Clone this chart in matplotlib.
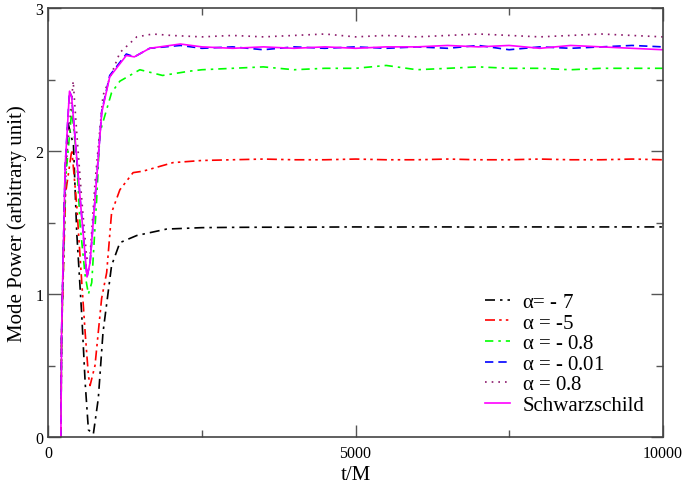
import matplotlib
matplotlib.use("Agg")
import matplotlib.pyplot as plt
import numpy as np

plt.rcParams['font.family'] = ['Liberation Serif', 'DejaVu Serif']
plt.rcParams['mathtext.fontset'] = 'custom'
plt.rcParams['mathtext.rm'] = 'Liberation Serif'
plt.rcParams['mathtext.it'] = 'Liberation Serif'

plateau_t = [2500, 3000, 3500, 4000, 4500, 5000, 5500, 6000, 6500, 7000,
             7500, 8000, 8500, 9000, 9500, 10000]

# alpha = -7
t_a7 = [205, 216, 270, 320, 410, 463, 545, 600, 653, 733, 814, 890, 1030,
        1165, 1440, 1925]
v_a7 = [0.0, 0.7, 1.8, 2.2, 2.04, 1.43, 0.85, 0.38, 0.05, 0.02, 0.27, 0.73,
        1.2, 1.36, 1.41, 1.455]
p_a7 = [1.465, 1.467, 1.468, 1.468, 1.469, 1.47, 1.469, 1.47, 1.47, 1.469,
        1.47, 1.47, 1.469, 1.47, 1.47, 1.47]

# alpha = -5
t_a5 = [205, 216, 280, 383, 463, 545, 600, 653, 680, 760, 868, 950, 1030,
        1165, 1380, 1540, 2030]
v_a5 = [0.0, 0.7, 1.7, 2.01, 1.62, 1.08, 0.73, 0.43, 0.36, 0.5, 0.97, 1.15,
        1.57, 1.73, 1.85, 1.86, 1.92]
p_a5 = [1.935, 1.94, 1.945, 1.94, 1.94, 1.945, 1.94, 1.94, 1.945, 1.94,
        1.94, 1.945, 1.94, 1.94, 1.945, 1.94]

# alpha = -0.8
t_a08m = [205, 216, 280, 383, 463, 518, 600, 653, 707, 787, 840, 1030, 1165,
          1490, 1860, 2300]
v_a08m = [0.0, 0.7, 1.8, 2.29, 1.94, 1.48, 1.13, 1.0, 1.08, 1.66, 2.13,
          2.41, 2.49, 2.57, 2.53, 2.56]
p_a08m = [2.57, 2.58, 2.59, 2.57, 2.58, 2.58, 2.60, 2.57, 2.58, 2.59, 2.58,
          2.58, 2.57, 2.58, 2.58, 2.58]

# alpha = -0.01
t_a001 = [205, 216, 275, 345, 380, 520, 630, 680, 760, 870, 1000, 1270, 1400,
          1650, 2150]
v_a001 = [0.0, 0.73, 1.9, 2.42, 2.38, 1.66, 1.12, 1.22, 1.66, 2.28, 2.53,
          2.68, 2.66, 2.72, 2.74]
p_a001 = [2.72, 2.73, 2.71, 2.73, 2.72, 2.73, 2.72, 2.73, 2.72, 2.74, 2.71,
          2.73, 2.72, 2.73, 2.74, 2.73]

# alpha = 0.8
t_a08 = [205, 216, 290, 405, 463, 545, 626, 680, 760, 890, 1165, 1440, 1700,
         2000]
v_a08 = [0.0, 0.7, 1.9, 2.49, 2.13, 1.66, 1.25, 1.27, 1.78, 2.39, 2.69, 2.80,
         2.82, 2.81]
p_a08 = [2.80, 2.81, 2.80, 2.81, 2.82, 2.80, 2.81, 2.80, 2.81, 2.82, 2.81,
         2.80, 2.81, 2.82, 2.81, 2.80]

# Schwarzschild
t_sch = [205, 216, 275, 345, 380, 520, 630, 680, 760, 870, 1000, 1270, 1400,
         1650, 2150]
v_sch = [0.0, 0.73, 1.9, 2.42, 2.38, 1.66, 1.12, 1.22, 1.66, 2.27, 2.52,
         2.67, 2.66, 2.72, 2.75]
p_sch = [2.73, 2.72, 2.73, 2.72, 2.73, 2.72, 2.73, 2.73, 2.74, 2.73, 2.74,
         2.72, 2.74, 2.73, 2.72, 2.71]

labels = [r'$\alpha$= - 7', r'$\alpha$ = -5', r'$\alpha$ = - 0.8',
          r'$\alpha$ = - 0.01', r'$\alpha$ = 0.8', 'Schwarzschild']

series = [
    (t_a7, v_a7, p_a7, 'black', (0, (6, 3, 1.5, 3))),
    (t_a5, v_a5, p_a5, '#ff0000', (0, (6, 2.5, 1.5, 2.5, 1.5, 2.5))),
    (t_a08m, v_a08m, p_a08m, '#00ff00', (0, (5, 3, 1.5, 3))),
    (t_a001, v_a001, p_a001, '#0000ff', (0, (5, 3))),
    (t_a08, v_a08, p_a08, '#8b1a6b', (0, (1, 3))),
    (t_sch, v_sch, p_sch, '#ff00ff', '-'),
]

fig = plt.figure(figsize=(6.85, 4.89), dpi=100)
ax = fig.add_axes([0.0705, 0.1043, 0.897, 0.8767])

for (t, v, p, c, ls), lab in zip(series, labels):
    ax.plot(list(t) + plateau_t, list(v) + p, color=c, linestyle=ls, lw=1.2,
            label=lab)

ax.set_xlim(0, 10000)
ax.set_ylim(0, 3)
ax.set_xticks([0, 5000, 10000])
ax.set_xticks([2500, 7500], minor=True)
ax.set_yticks([0, 1, 2, 3])
ax.set_yticks([0.5, 1.5, 2.5], minor=True)
ax.tick_params(which='both', direction='in', top=True, right=True,
               color='#555555', labelsize=11.5)
ax.tick_params(which='major', length=9, width=1)
ax.tick_params(which='minor', length=5, width=1)
ax.tick_params(axis='x', which='major', pad=6)
for s in ax.spines.values():
    s.set_color('#444444')
    s.set_linewidth(1.2)

ax.set_xlabel('t/M', fontsize=15, labelpad=3)
ax.set_ylabel('Mode Power (arbitrary unit)', fontsize=15, labelpad=6)

ax.legend(loc='upper left', bbox_to_anchor=(0.6927, 0.4214),
          bbox_transform=fig.transFigure, frameon=False, fontsize=15,
          handlelength=1.2, handletextpad=0.6, labelspacing=0.05,
          borderpad=0)

fig.savefig('out.png', dpi=100)
